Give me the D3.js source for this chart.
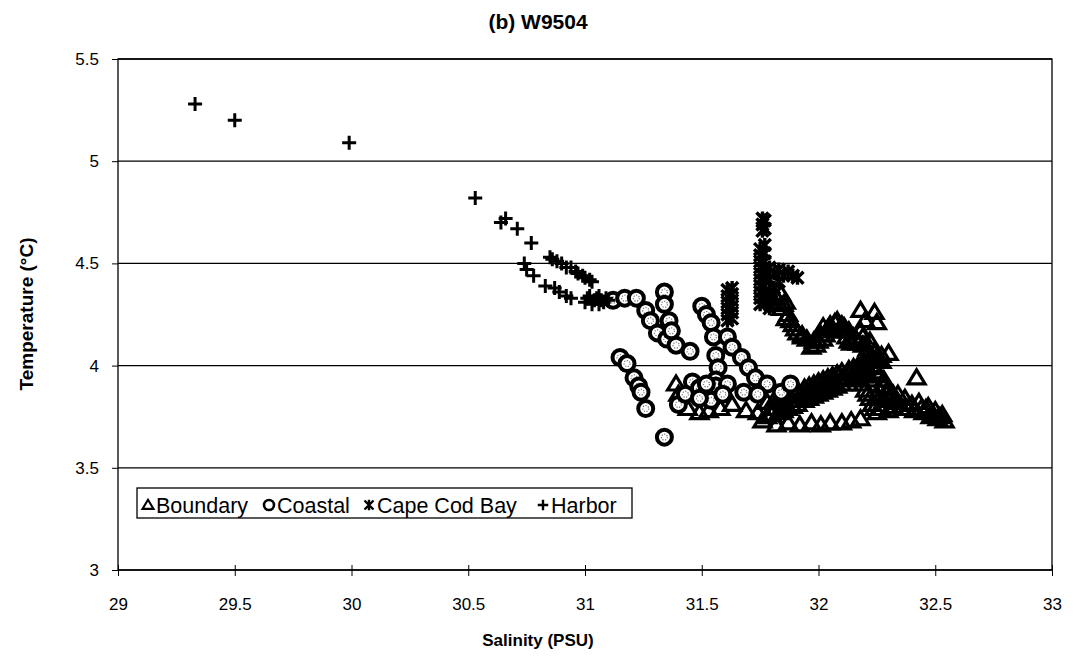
<!DOCTYPE html>
<html><head><meta charset="utf-8">
<script src="https://cdn.jsdelivr.net/npm/d3@7"></script>
<style>
html,body{margin:0;padding:0;background:#fff;}
text{font-family:"Liberation Sans",Arial,sans-serif;fill:#000;}
</style></head>
<body><svg id="chart" width="1077" height="656"></svg>
<script>
const titleText = "(b) W9504";
const xLabel = "Salinity (PSU)";
const yLabel = "Temperature (°C)";
const xTicks = [29, 29.5, 30, 30.5, 31, 31.5, 32, 32.5, 33];
const yTicks = [3, 3.5, 4, 4.5, 5, 5.5];
const seriesNames = ["Boundary", "Coastal", "Cape Cod Bay", "Harbor"];

// [salinity, temperature]
const boundary = [
  // trail below Cape Cod Bay column
  [31.82,4.33],[31.84,4.35],[31.84,4.28],[31.86,4.31],[31.85,4.30],[31.86,4.23],[31.87,4.25],[31.88,4.22],
  [31.89,4.20],[31.90,4.18],[31.91,4.16],[31.93,4.15],[31.93,4.14],[31.95,4.13],
  // hump
  [31.98,4.12],[31.97,4.09],[31.99,4.10],[32.00,4.12],[32.01,4.15],[32.02,4.13],[32.02,4.19],[32.03,4.15],[32.04,4.18],
  [32.05,4.20],[32.06,4.17],[32.07,4.21],[32.08,4.22],[32.09,4.17],[32.10,4.20],[32.11,4.19],[32.12,4.14],[32.13,4.12],
  [32.13,4.17],[32.14,4.11],[32.15,4.14],[32.16,4.13],[32.17,4.11],
  // peaks and dense block
  [32.18,4.27],[32.24,4.26],[32.20,4.22],[32.25,4.21],[32.22,4.12],[32.24,4.07],[32.26,4.02],
  [32.18,4.17],[32.19,4.10],[32.21,4.05],[32.23,4.00],[32.25,3.97],[32.28,3.93],[32.30,3.89],[32.32,3.86],
  [32.34,3.82],[32.36,3.79],[32.18,3.97],[32.19,3.91],[32.21,3.86],[32.23,3.81],[32.25,3.77],[32.28,3.83],[32.30,3.78],
  [32.20,4.00],[32.22,3.93],[32.26,3.88],[32.29,3.86],[32.27,3.79],[32.32,3.80],[32.34,3.86],
  [32.19,4.14],[32.21,4.08],[32.23,4.04],[32.24,3.99],[32.26,3.95],[32.28,3.90],[32.31,3.84],[32.33,3.83],
  [32.20,3.88],[32.22,3.84],[32.24,3.79],[32.26,3.84],
  // tail
  [32.37,3.84],[32.38,3.79],[32.40,3.81],[32.41,3.78],[32.43,3.82],[32.44,3.79],[32.45,3.77],[32.46,3.79],
  [32.47,3.80],[32.48,3.75],[32.49,3.76],[32.50,3.78],[32.51,3.74],[32.52,3.75],[32.53,3.76],[32.54,3.73],
  [32.42,3.94],
  // diagonal band
  [31.78,3.82],[31.83,3.84],[31.87,3.86],[31.91,3.88],[31.96,3.90],[32.00,3.92],[32.04,3.94],[32.08,3.96],[32.13,3.98],[32.17,4.00],[32.21,4.02],[32.25,4.04],[32.30,4.06],
  [31.81,3.83],[31.85,3.85],[31.89,3.87],[31.94,3.89],[31.98,3.91],[32.02,3.93],[32.06,3.95],[32.10,3.97],[32.15,3.99],[32.19,4.01],[32.23,4.03],[32.27,4.05],
  [31.80,3.79],[31.85,3.81],[31.89,3.83],[31.94,3.86],[31.98,3.88],[32.02,3.90],[32.06,3.92],[32.10,3.94],[32.15,3.96],[32.19,3.98],[32.23,4.00],[32.27,4.02],
  [31.80,3.76],[31.85,3.78],[31.89,3.80],[31.94,3.83],[31.98,3.85],[32.02,3.87],[32.06,3.89],[32.10,3.91],[32.15,3.93],[32.19,3.95],
  [31.78,3.75],[31.83,3.77],[31.87,3.79],[31.91,3.81],[31.96,3.84],[32.00,3.86],[32.04,3.88],[32.08,3.90],[32.13,3.91],[32.17,3.94],[32.21,3.96],
  // bottom chain
  [31.53,3.78],[31.58,3.79],[31.63,3.81],[31.69,3.78],[31.74,3.77],[31.76,3.73],[31.82,3.71],[31.87,3.72],[31.92,3.71],[31.97,3.72],
  [32.01,3.71],[32.05,3.72],[32.10,3.72],[32.14,3.73],[32.18,3.74],
  [31.39,3.91],[31.40,3.86],[31.44,3.79],[31.49,3.77]
];
const coastal = [
  [31.12,4.32],[31.17,4.33],[31.22,4.33],[31.26,4.27],[31.28,4.22],[31.31,4.16],[31.35,4.13],[31.39,4.10],[31.45,4.07],
  [31.34,4.36],[31.34,4.30],[31.36,4.22],[31.37,4.17],
  [31.15,4.04],[31.18,4.01],[31.21,3.94],[31.23,3.90],[31.24,3.87],[31.26,3.79],
  [31.34,3.65],
  [31.50,4.29],[31.52,4.25],[31.54,4.21],[31.55,4.14],[31.56,4.05],[31.57,3.99],[31.56,3.93],[31.56,3.90],
  [31.61,4.14],[31.63,4.09],[31.67,4.04],[31.70,3.99],[31.73,3.94],[31.78,3.91],
  [31.46,3.92],[31.49,3.89],[31.52,3.91],[31.61,3.91],[31.68,3.87],[31.40,3.81],[31.84,3.87],[31.88,3.91],
  [31.43,3.86],[31.54,3.83],[31.59,3.86],[31.49,3.84],[31.74,3.86]
];
const capeCodBay = [
  [31.61,4.22],[31.61,4.25],[31.61,4.28],[31.61,4.31],[31.61,4.34],[31.61,4.37],
  [31.63,4.23],[31.63,4.26],[31.63,4.29],[31.63,4.32],[31.63,4.35],[31.63,4.38],
  [31.76,4.66],[31.76,4.69],[31.76,4.72],[31.77,4.67],[31.77,4.71],
  [31.75,4.30],[31.75,4.33],[31.75,4.36],[31.75,4.39],[31.75,4.42],[31.75,4.45],[31.75,4.48],[31.75,4.51],[31.75,4.54],[31.75,4.57],
  [31.77,4.31],[31.77,4.35],[31.77,4.39],[31.77,4.43],[31.77,4.47],[31.77,4.51],[31.77,4.55],[31.77,4.59],
  [31.79,4.28],[31.79,4.30],[31.79,4.36],[31.79,4.42],[31.79,4.48],
  [31.81,4.45],[31.83,4.47],[31.85,4.44],[31.87,4.46],[31.89,4.44],[31.91,4.43],[31.83,4.41],[31.81,4.38],[31.80,4.34],[31.82,4.31]
];
const harbor = [
  [29.33,5.28],[29.50,5.20],[29.99,5.09],[30.53,4.82],[30.64,4.70],[30.66,4.72],[30.71,4.67],[30.77,4.60],
  [30.74,4.50],[30.75,4.47],[30.78,4.44],
  [30.85,4.53],[30.86,4.52],[30.88,4.51],[30.90,4.50],[30.92,4.48],[30.94,4.48],[30.96,4.46],[30.97,4.45],
  [30.99,4.44],[31.00,4.43],[31.02,4.42],[31.03,4.41],
  [30.83,4.39],[30.87,4.38],[30.89,4.36],[30.92,4.34],[30.94,4.33],
  [31.00,4.31],[31.01,4.33],[31.02,4.34],[31.03,4.30],[31.04,4.32],[31.05,4.33],[31.06,4.34],[31.06,4.30],
  [31.07,4.32],[31.08,4.31],[31.09,4.33],[31.10,4.32]
];

const svg = d3.select("#chart");
const x = d3.scaleLinear().domain([29, 33]).range([118, 1052]);
const y = d3.scaleLinear().domain([3, 5.5]).range([570, 59]);

// gridlines
svg.append("g").selectAll("line").data(yTicks).join("line")
  .attr("x1", x(29)).attr("x2", x(33))
  .attr("y1", d => y(d)).attr("y2", d => y(d))
  .attr("stroke", "#000").attr("stroke-width", 1.3);
// frame
svg.append("rect").attr("x", x(29)).attr("y", y(5.5))
  .attr("width", x(33) - x(29)).attr("height", y(3) - y(5.5))
  .attr("fill", "none").attr("stroke", "#000").attr("stroke-width", 1.3);

// axes
const xAxis = d3.axisBottom(x).tickValues(xTicks).tickSize(6).tickPadding(22).tickFormat(d3.format("~g"));
const gx = svg.append("g").attr("transform", `translate(0,${y(3)})`).call(xAxis);
gx.select(".domain").remove();
gx.selectAll(".tick line").attr("y1", -5).attr("stroke", "#000");
gx.selectAll("text").attr("font-size", 17).attr("font-family", "Liberation Sans, Arial");

const yAxis = d3.axisLeft(y).tickValues(yTicks).tickSize(6).tickPadding(13).tickFormat(d3.format("~g"));
const gy = svg.append("g").attr("transform", `translate(${x(29)},0)`).call(yAxis);
gy.select(".domain").remove();
gy.selectAll(".tick line").attr("stroke", "#000");
gy.selectAll("text").attr("font-size", 17).attr("font-family", "Liberation Sans, Arial");

// titles
svg.append("text").attr("x", 538).attr("y", 29).attr("text-anchor", "middle")
  .attr("font-size", 21).attr("font-weight", "bold").text(titleText);
svg.append("text").attr("x", 538).attr("y", 646).attr("text-anchor", "middle")
  .attr("font-size", 17).attr("font-weight", "bold").text(xLabel);
svg.append("text").attr("transform", "translate(33,314) rotate(-90)").attr("text-anchor", "middle")
  .attr("font-size", 19).attr("font-weight", "bold").text(yLabel);

// marker shapes
const shapes = {
  tri: "M0,-8L8.5,6L-8.5,6Z",
  star: "M-6,-6L6,6M-6,6L6,-6M0,-7L0,7",
  plus: "M-7,0L7,0M0,-7L0,7"
};
function drawTri(g, data) {
  g.selectAll("path").data(data).join("path")
    .attr("d", shapes.tri)
    .attr("transform", d => `translate(${x(d[0])},${y(d[1])})`)
    .attr("fill", "none").attr("stroke", "#000").attr("stroke-width", 3.2);
}
function drawCirc(g, data, r) {
  const m = g.selectAll("g").data(data).join("g")
    .attr("transform", d => `translate(${x(d[0])},${y(d[1])})`);
  m.append("circle").attr("r", r).attr("fill", "#fff").attr("stroke", "#000").attr("stroke-width", 4);
  m.append("circle").attr("r", r * 0.4).attr("fill", "none").attr("stroke", "#777")
    .attr("stroke-width", 1.2).attr("stroke-dasharray", "1.2,1.5");
}
function drawPath(g, data, key, sw) {
  g.selectAll("path").data(data).join("path")
    .attr("d", shapes[key])
    .attr("transform", d => `translate(${x(d[0])},${y(d[1])})`)
    .attr("fill", "none").attr("stroke", "#000").attr("stroke-width", sw);
}

drawTri(svg.append("g"), boundary);
drawCirc(svg.append("g"), coastal, 7.5);
drawPath(svg.append("g"), capeCodBay, "star", 3.4);
drawPath(svg.append("g"), harbor, "plus", 3);

// legend
const lg = svg.append("g");
lg.append("rect").attr("x", 137).attr("y", 488).attr("width", 495).attr("height", 30)
  .attr("fill", "#fff").attr("stroke", "#000").attr("stroke-width", 1.3);
const legendX = [148, 269, 369, 543];
const legendKeys = ["tri", "circ", "star", "plus"];
seriesNames.forEach((name, i) => {
  const cx = legendX[i], cy = 505;
  const k = legendKeys[i];
  if (k === "circ") {
    lg.append("circle").attr("cx", cx).attr("cy", cy).attr("r", 5).attr("fill", "#fff")
      .attr("stroke", "#000").attr("stroke-width", 2.6);
  } else {
    lg.append("path").attr("d", shapes[k])
      .attr("transform", `translate(${cx},${cy}) scale(${k === "tri" ? 0.65 : 0.75})`)
      .attr("fill", "none").attr("stroke", "#000").attr("stroke-width", 3.2);
  }
  lg.append("text").attr("x", cx + 8).attr("y", cy + 7.5).attr("font-size", 21.5).text(name);
});
</script></body></html>
